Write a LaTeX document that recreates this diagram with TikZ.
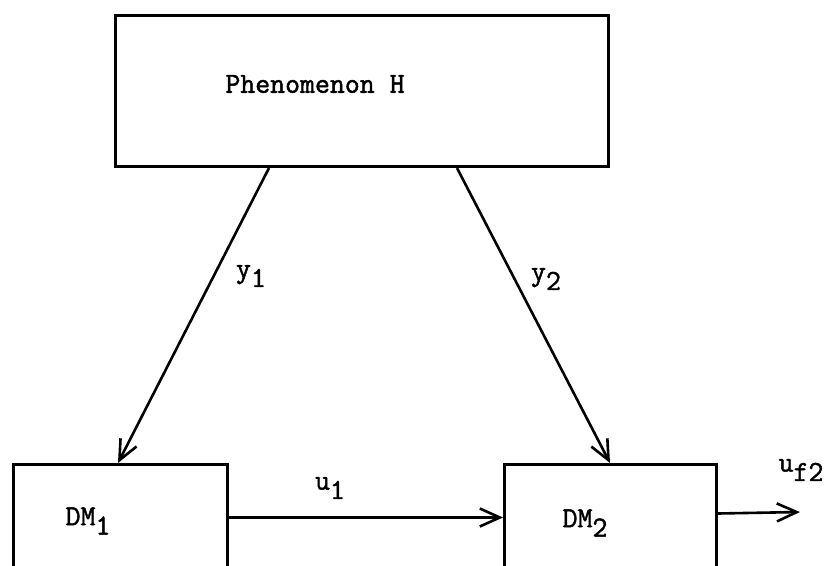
\documentclass[tikz,border=0pt]{standalone}
\usepackage{fontspec}
\newfontfamily\typew[FakeBold=1.6]{Latin Modern Mono}
\usetikzlibrary{arrows.meta,calc,positioning}
\newcommand{\sbs}[1]{\raisebox{-0.75ex}{#1}}

\begin{document}
\begin{tikzpicture}[x=1pt,y=-1pt,
  blk/.style={draw,line width=3pt,anchor=north west,inner sep=0pt},
  lbl/.style={font=\typew\fontsize{29}{34}\selectfont,inner sep=0pt},
  sig/.style={line width=2.6pt,-{Straight Barb[length=20pt,width=18pt,line width=2.6pt]}}]
  \useasboundingbox (0,0) rectangle (832,565);
  % boxes
  \node[blk,minimum width=493pt,minimum height=151pt] (phen) at (114,14) {};
  \node[blk,minimum width=214pt,minimum height=106pt] (dm1) at (12,463) {};
  \node[blk,minimum width=212pt,minimum height=106pt] (dm2) at (503,463) {};
  \node[lbl] (phentxt) at (315,84) {Phenomenon H};
  \node[lbl] (dm1txt) at (88,521) {DM\sbs{1}};
  \node[lbl] (dm2txt) at (585,523) {DM\sbs{2}};
  \coordinate (uout) at (800,512);
  % signals
  \draw[sig] ($(phen.south west)+(155,0)$) -- ($(dm1.north west)+(106,0)$);
  \draw[sig] ($(phen.south west)+(343,0)$) -- ($(dm2.north west)+(107,0)$);
  \draw[sig] (dm1.east) -- (dm2.west);
  \draw[sig] ($(dm2.east)+(0,-4)$) -- (uout);
  \node[lbl] (y1) at (251,276) {y\sbs{1}};
  \node[lbl] (y2) at (546,279) {y\sbs{2}};
  \node[lbl] (u1) at (330,488) {u\sbs{1}};
  \node[lbl] (uf2) at (801,470) {u\sbs{f2}};
\end{tikzpicture}
\end{document}
